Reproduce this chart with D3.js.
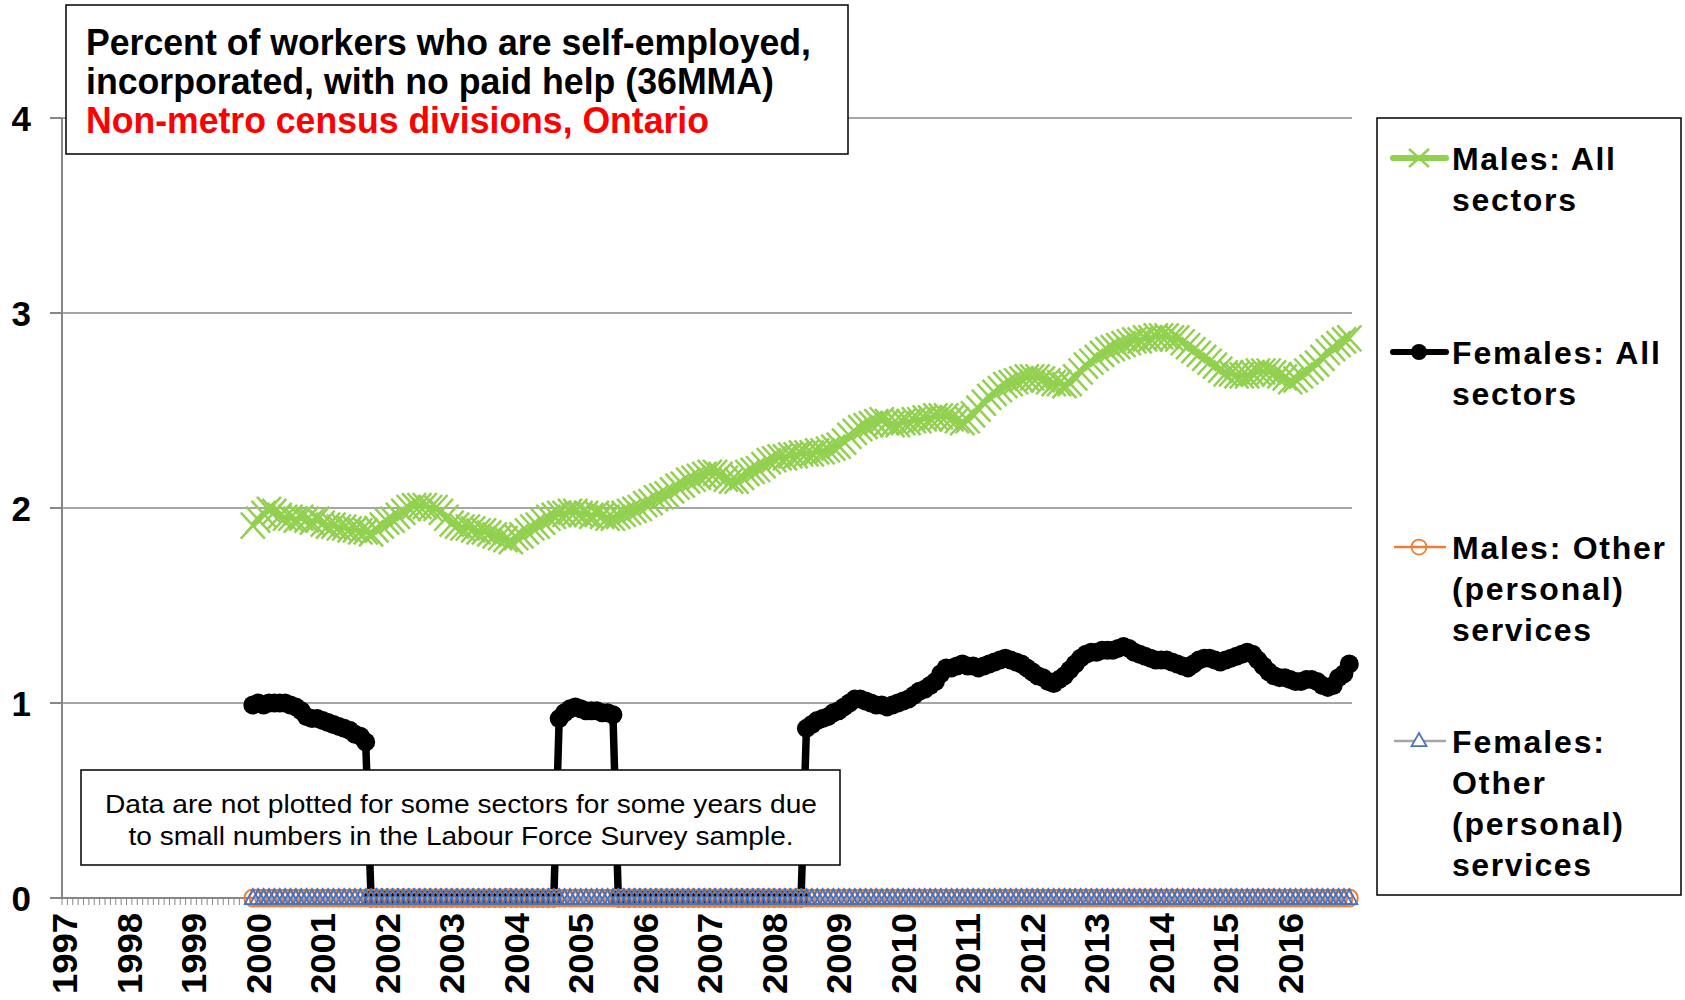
<!DOCTYPE html>
<html>
<head>
<meta charset="utf-8">
<script src="https://cdn.jsdelivr.net/npm/d3@7"></script>
<style>
  html, body { margin: 0; padding: 0; background: #fff; }
  svg { display: block; font-family: "Liberation Sans", Arial, sans-serif; }
</style>
</head>
<body>
<svg id="chart" width="1685" height="1000"></svg>
<script>
// categories: months Jan 1997 .. Dec 2016, one tick label per year
const years = ['1997','1998','1999','2000','2001','2002','2003','2004','2005','2006',
               '2007','2008','2009','2010','2011','2012','2013','2014','2015','2016'];
const firstMonth = '1999-12'; // 36MMA starts here

// Males: All sectors (Dec 1999, then Jan..Dec of each year)
const maleAll = [1.91,
  1.94,1.97,1.99,1.98,1.96,1.95,1.95,1.94,1.95,1.94,1.93,1.94,
  1.92,1.91,1.91,1.90,1.90,1.89,1.89,1.88,1.88,1.87,1.89,1.91,
  1.93,1.94,1.96,1.98,2.00,2.01,2.01,2.01,2.00,2.00,1.98,1.95,
  1.92,1.91,1.90,1.90,1.89,1.88,1.88,1.87,1.86,1.85,1.84,1.83,
  1.85,1.86,1.88,1.90,1.91,1.93,1.95,1.96,1.97,1.97,1.98,1.98,
  1.97,1.97,1.96,1.97,1.96,1.95,1.95,1.96,1.97,1.98,1.99,2.00,
  2.02,2.03,2.05,2.06,2.07,2.09,2.11,2.12,2.14,2.15,2.16,2.17,
  2.18,2.18,2.17,2.15,2.14,2.14,2.16,2.18,2.19,2.20,2.22,2.24,
  2.25,2.26,2.26,2.27,2.27,2.28,2.28,2.28,2.29,2.29,2.30,2.31,
  2.32,2.34,2.37,2.39,2.41,2.42,2.43,2.44,2.45,2.44,2.43,2.43,
  2.44,2.44,2.45,2.45,2.46,2.46,2.47,2.47,2.47,2.46,2.45,2.44,
  2.45,2.48,2.51,2.54,2.57,2.59,2.61,2.63,2.64,2.65,2.66,2.67,
  2.67,2.67,2.66,2.65,2.64,2.64,2.63,2.64,2.67,2.70,2.73,2.75,
  2.77,2.79,2.81,2.82,2.83,2.84,2.85,2.86,2.86,2.87,2.87,2.88,
  2.88,2.88,2.87,2.87,2.85,2.83,2.81,2.79,2.77,2.75,2.73,2.71,
  2.69,2.69,2.68,2.68,2.68,2.69,2.70,2.70,2.70,2.69,2.68,2.67,
  2.65,2.66,2.68,2.70,2.72,2.74,2.77,2.80,2.82,2.84,2.86,2.87];

// Females: All sectors (0 where not plotted)
const femaleAll = [0.99,
  1.00,0.99,1.00,1.00,1.00,1.00,0.99,0.98,0.96,0.93,0.92,0.92,
  0.91,0.90,0.89,0.88,0.87,0.86,0.84,0.83,0.80,0,0,0,
  0,0,0,0,0,0,0,0,0,0,0,0,
  0,0,0,0,0,0,0,0,0,0,0,0,
  0,0,0,0,0,0,0,0,0.92,0.95,0.97,0.98,
  0.97,0.96,0.96,0.96,0.95,0.95,0.94,0,0,0,0,0,
  0,0,0,0,0,0,0,0,0,0,0,0,
  0,0,0,0,0,0,0,0,0,0,0,0,
  0,0,0,0,0,0,0.87,0.89,0.91,0.92,0.93,0.95,
  0.96,0.98,1.00,1.02,1.02,1.01,1.00,0.99,0.99,0.98,0.99,1.00,
  1.01,1.02,1.04,1.06,1.07,1.09,1.11,1.15,1.18,1.18,1.19,1.20,
  1.19,1.19,1.18,1.19,1.20,1.21,1.22,1.23,1.22,1.21,1.20,1.18,
  1.16,1.14,1.13,1.11,1.10,1.12,1.14,1.17,1.20,1.23,1.25,1.26,
  1.26,1.27,1.27,1.27,1.28,1.29,1.28,1.26,1.25,1.24,1.23,1.22,
  1.22,1.22,1.21,1.20,1.19,1.18,1.20,1.22,1.23,1.23,1.22,1.21,
  1.22,1.23,1.24,1.25,1.26,1.25,1.22,1.19,1.16,1.14,1.13,1.13,
  1.12,1.11,1.11,1.12,1.12,1.11,1.09,1.08,1.09,1.13,1.15,1.20];

// Males: Other (personal) services
const maleOther = [0,
  0,0,0,0,0,0,0,0,0,0,0,0,
  0,0,0,0,0,0,0,0,0,0,0,0,
  0,0,0,0,0,0,0,0,0,0,0,0,
  0,0,0,0,0,0,0,0,0,0,0,0,
  0,0,0,0,0,0,0,0,0,0,0,0,
  0,0,0,0,0,0,0,0,0,0,0,0,
  0,0,0,0,0,0,0,0,0,0,0,0,
  0,0,0,0,0,0,0,0,0,0,0,0,
  0,0,0,0,0,0,0,0,0,0,0,0,
  0,0,0,0,0,0,0,0,0,0,0,0,
  0,0,0,0,0,0,0,0,0,0,0,0,
  0,0,0,0,0,0,0,0,0,0,0,0,
  0,0,0,0,0,0,0,0,0,0,0,0,
  0,0,0,0,0,0,0,0,0,0,0,0,
  0,0,0,0,0,0,0,0,0,0,0,0,
  0,0,0,0,0,0,0,0,0,0,0,0,
  0,0,0,0,0,0,0,0,0,0,0,0];

// Females: Other (personal) services
const femaleOther = [0,
  0,0,0,0,0,0,0,0,0,0,0,0,
  0,0,0,0,0,0,0,0,0,0,0,0,
  0,0,0,0,0,0,0,0,0,0,0,0,
  0,0,0,0,0,0,0,0,0,0,0,0,
  0,0,0,0,0,0,0,0,0,0,0,0,
  0,0,0,0,0,0,0,0,0,0,0,0,
  0,0,0,0,0,0,0,0,0,0,0,0,
  0,0,0,0,0,0,0,0,0,0,0,0,
  0,0,0,0,0,0,0,0,0,0,0,0,
  0,0,0,0,0,0,0,0,0,0,0,0,
  0,0,0,0,0,0,0,0,0,0,0,0,
  0,0,0,0,0,0,0,0,0,0,0,0,
  0,0,0,0,0,0,0,0,0,0,0,0,
  0,0,0,0,0,0,0,0,0,0,0,0,
  0,0,0,0,0,0,0,0,0,0,0,0,
  0,0,0,0,0,0,0,0,0,0,0,0,
  0,0,0,0,0,0,0,0,0,0,0,0];

const yTicks = [0, 1, 2, 3, 4];

const titleLines = [
  {text: 'Percent of workers who are self-employed,', color: '#000', len: 725},
  {text: 'incorporated, with no paid help (36MMA)', color: '#000', len: 688},
  {text: 'Non-metro census divisions, Ontario', color: '#ff0000', len: 623}
];
const noteLines = [
  {text: 'Data are not plotted for some sectors for some years due', len: 712},
  {text: 'to small numbers in the Labour Force Survey sample.', len: 665}
];
const legendItems = [
  {key: 'maleAll', lines: ['Males: All', 'sectors'], lens: [163, 124], top: 170},
  {key: 'femaleAll', lines: ['Females: All', 'sectors'], lens: [208, 124], top: 364},
  {key: 'maleOther', lines: ['Males: Other', '(personal)', 'services'], lens: [213, 171, 139], top: 559},
  {key: 'femaleOther', lines: ['Females:', 'Other', '(personal)', 'services'], lens: [152, 93, 171, 139], top: 753}
];

// ---- setup
const svg = d3.select('#chart');
const months = [];
years.forEach(yr => {
  for (let m = 1; m <= 12; m++) months.push(yr + '-' + (m < 10 ? '0' + m : m));
});
const start = months.indexOf(firstMonth);
const toPts = vals => vals.map((v, i) => ({m: months[start + i], v: v}));

const x = d3.scaleBand().domain(months).range([62, 1352]);
const y = d3.scaleLinear().domain([0, 4]).range([898, 118]);
const cx = d => x(d.m) + x.bandwidth() / 2;
const line = d3.line().x(cx).y(d => y(d.v));

// gridlines
svg.append('g').selectAll('line').data(yTicks.filter(t => t > 0)).join('line')
  .attr('x1', 62).attr('x2', 1352)
  .attr('y1', d => y(d)).attr('y2', d => y(d))
  .attr('stroke', '#a6a6a6').attr('stroke-width', 2);

// y axis
const yAxis = svg.append('g');
yAxis.append('line').attr('x1', 62).attr('x2', 62).attr('y1', y(4)).attr('y2', y(0))
  .attr('stroke', '#868686').attr('stroke-width', 2);
yAxis.selectAll('.tk').data(yTicks).join('line').attr('class', 'tk')
  .attr('x1', 50).attr('x2', 62).attr('y1', d => y(d)).attr('y2', d => y(d))
  .attr('stroke', '#868686').attr('stroke-width', 2);
yAxis.selectAll('text').data(yTicks).join('text')
  .attr('x', 31).attr('y', d => y(d)).attr('dy', '0.36em')
  .attr('text-anchor', 'end').attr('font-size', 35).attr('font-weight', 'bold')
  .text(d => d);

// x axis with a tick at every month
const xAxis = svg.append('g');
xAxis.selectAll('.tk').data(months.concat(['end'])).join('line').attr('class', 'tk')
  .attr('x1', d => d === 'end' ? 1352 : x(d)).attr('x2', d => d === 'end' ? 1352 : x(d))
  .attr('y1', y(0)).attr('y2', y(0) + 7)
  .attr('stroke', '#868686').attr('stroke-width', 1);
xAxis.append('line').attr('x1', 62).attr('x2', 1352).attr('y1', y(0)).attr('y2', y(0))
  .attr('stroke', '#868686').attr('stroke-width', 2);
xAxis.selectAll('text').data(years).join('text')
  .attr('transform', d => 'translate(' + (x(d + '-01') + x.bandwidth() / 2) + ',913) rotate(-90)')
  .attr('dy', '0.36em').attr('text-anchor', 'end')
  .attr('font-size', 35).attr('font-weight', 'bold')
  .attr('textLength', 81).attr('lengthAdjust', 'spacingAndGlyphs')
  .text(d => d);

// marker shapes
const xMark = 'M-12,-13L12,13M-12,13L12,-13';
const triMark = 'M0,-9L8,6L-8,6Z';

// Males: All sectors
const gM = svg.append('g');
gM.append('path').datum(toPts(maleAll)).attr('d', line)
  .attr('fill', 'none').attr('stroke', '#92d050').attr('stroke-width', 6).attr('stroke-linejoin', 'round');
gM.selectAll('path.mk').data(toPts(maleAll)).join('path').attr('class', 'mk')
  .attr('d', xMark).attr('transform', d => 'translate(' + cx(d) + ',' + y(d.v) + ')')
  .attr('stroke', '#92d050').attr('stroke-width', 2.5).attr('fill', 'none');

// Females: All sectors
const gF = svg.append('g');
gF.append('path').datum(toPts(femaleAll)).attr('d', line)
  .attr('fill', 'none').attr('stroke', '#000').attr('stroke-width', 7.5).attr('stroke-linejoin', 'round');
gF.selectAll('circle').data(toPts(femaleAll)).join('circle')
  .attr('cx', cx).attr('cy', d => y(d.v)).attr('r', 9.5).attr('fill', '#000');

// Males: Other (personal) services
const gMO = svg.append('g');
gMO.append('path').datum(toPts(maleOther)).attr('d', line)
  .attr('fill', 'none').attr('stroke', '#ed7d31').attr('stroke-width', 2.5);
gMO.selectAll('circle').data(toPts(maleOther)).join('circle')
  .attr('cx', cx).attr('cy', d => y(d.v)).attr('r', 8.5)
  .attr('fill', 'none').attr('stroke', '#ed7d31').attr('stroke-width', 2);

// Females: Other (personal) services
const gFO = svg.append('g');
gFO.append('path').datum(toPts(femaleOther)).attr('d', line)
  .attr('fill', 'none').attr('stroke', '#a5a5a5').attr('stroke-width', 2.5);
gFO.selectAll('path.mk').data(toPts(femaleOther)).join('path').attr('class', 'mk')
  .attr('d', triMark).attr('transform', d => 'translate(' + cx(d) + ',' + y(d.v) + ')')
  .attr('fill', 'none').attr('stroke', '#4472c4').attr('stroke-width', 1.75);

// title box
svg.append('rect').attr('x', 66).attr('y', 5).attr('width', 782).attr('height', 149)
  .attr('fill', '#fff').attr('stroke', '#000').attr('stroke-width', 1.5);
svg.append('g').selectAll('text').data(titleLines).join('text')
  .attr('x', 86).attr('y', (d, i) => 55 + i * 39)
  .attr('fill', d => d.color)
  .attr('font-family', '"Liberation Sans Narrow", "Arial Narrow", "Liberation Sans", sans-serif')
  .attr('font-size', 37).attr('font-weight', 'bold')
  .attr('textLength', d => d.len).attr('lengthAdjust', 'spacingAndGlyphs')
  .text(d => d.text);

// note box
svg.append('rect').attr('x', 81).attr('y', 770).attr('width', 759).attr('height', 95)
  .attr('fill', '#fff').attr('stroke', '#000').attr('stroke-width', 1.5);
svg.append('g').selectAll('text').data(noteLines).join('text')
  .attr('x', 461).attr('y', (d, i) => 813 + i * 32)
  .attr('text-anchor', 'middle').attr('font-size', 25)
  .attr('textLength', d => d.len).attr('lengthAdjust', 'spacingAndGlyphs')
  .text(d => d.text);

// legend
svg.append('rect').attr('x', 1377).attr('y', 118).attr('width', 304).attr('height', 777)
  .attr('fill', '#fff').attr('stroke', '#000').attr('stroke-width', 1.5);
const lg = svg.append('g');
legendItems.forEach(it => {
  const my = it.top - 12;
  const g = lg.append('g');
  if (it.key === 'maleAll') {
    g.append('line').attr('x1', 1393).attr('x2', 1446).attr('y1', my).attr('y2', my)
      .attr('stroke', '#92d050').attr('stroke-width', 6).attr('stroke-linecap', 'round');
    g.append('path').attr('d', 'M-10,-9L10,9M-10,9L10,-9').attr('transform', 'translate(1419,' + my + ')')
      .attr('stroke', '#92d050').attr('stroke-width', 2.5);
  } else if (it.key === 'femaleAll') {
    g.append('line').attr('x1', 1393).attr('x2', 1446).attr('y1', my).attr('y2', my)
      .attr('stroke', '#000').attr('stroke-width', 6).attr('stroke-linecap', 'round');
    g.append('circle').attr('cx', 1419).attr('cy', my).attr('r', 8).attr('fill', '#000');
  } else if (it.key === 'maleOther') {
    g.append('line').attr('x1', 1394).attr('x2', 1446).attr('y1', my).attr('y2', my)
      .attr('stroke', '#ed7d31').attr('stroke-width', 2.5);
    g.append('circle').attr('cx', 1419).attr('cy', my).attr('r', 7.5)
      .attr('fill', 'none').attr('stroke', '#ed7d31').attr('stroke-width', 1.75);
  } else {
    g.append('line').attr('x1', 1394).attr('x2', 1446).attr('y1', my).attr('y2', my)
      .attr('stroke', '#a5a5a5').attr('stroke-width', 2.5);
    g.append('path').attr('d', 'M0,-8L7.5,5L-7.5,5Z').attr('transform', 'translate(1419,' + my + ')')
      .attr('fill', '#fff').attr('stroke', '#4472c4').attr('stroke-width', 1.75);
  }
  g.selectAll('text').data(it.lines).join('text')
    .attr('x', 1452).attr('y', (d, i) => it.top + i * 41)
    .attr('font-size', 32).attr('font-weight', 'bold')
    .attr('textLength', (d, i) => it.lens[i]).attr('lengthAdjust', 'spacing')
    .text(d => d);
});
</script>
</body>
</html>
